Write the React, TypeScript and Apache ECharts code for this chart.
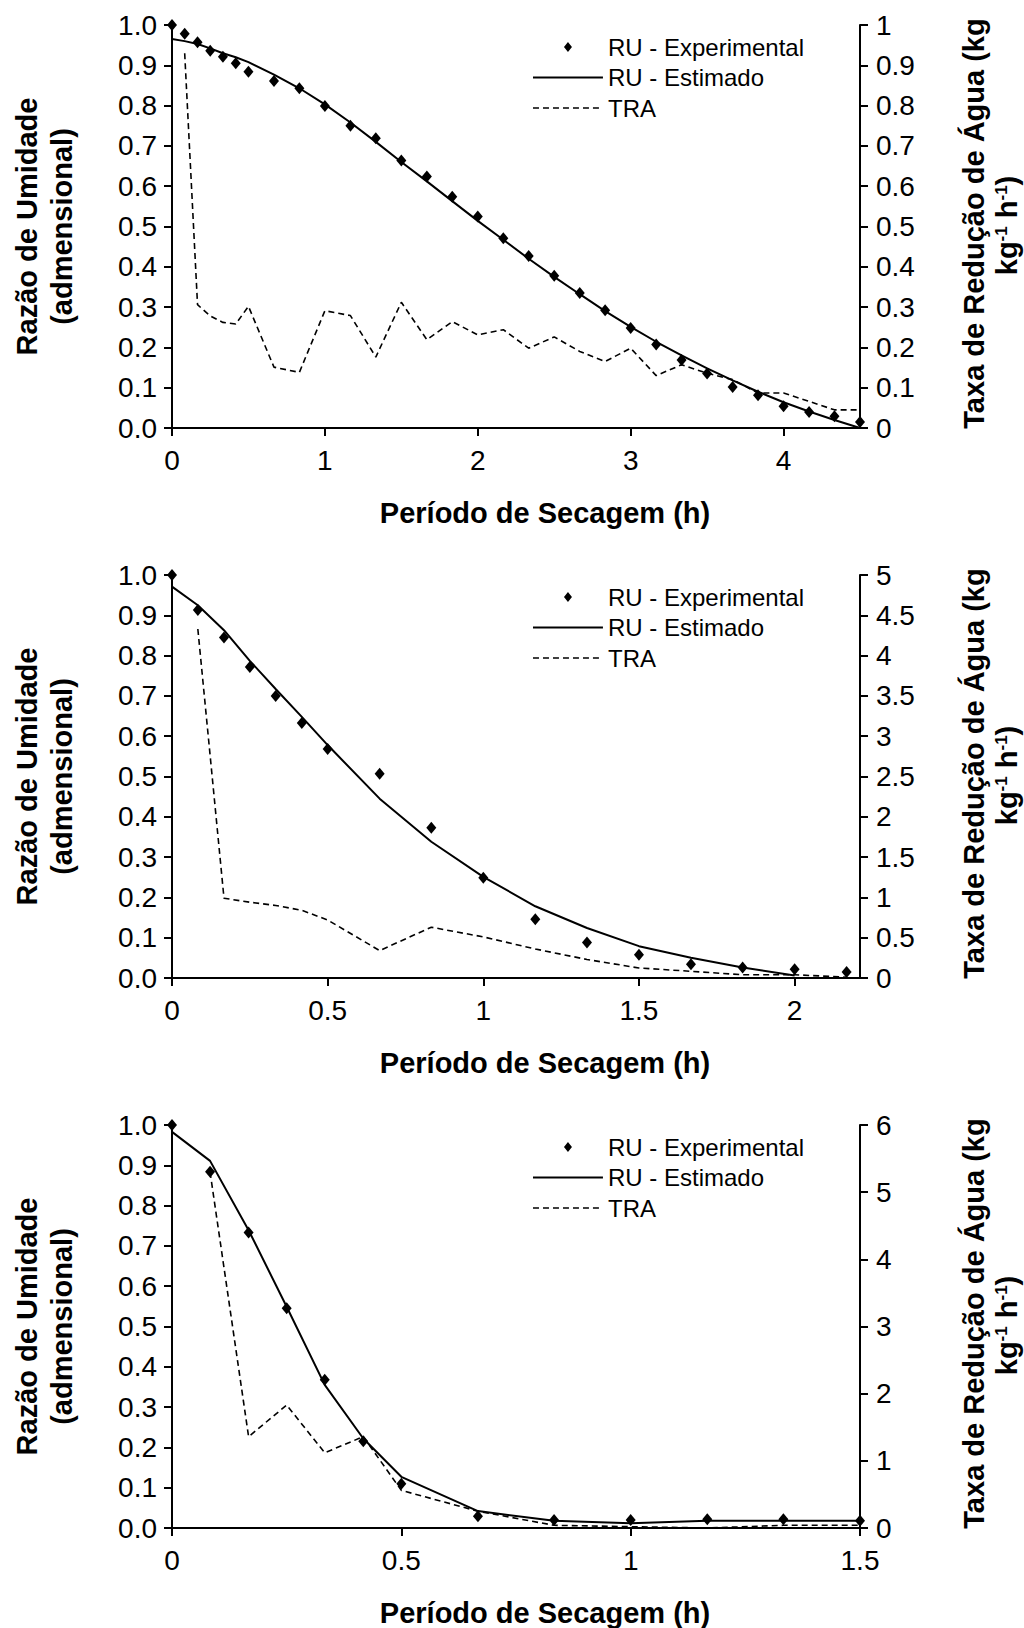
import React, { useEffect, useRef } from 'react';
import * as echarts from 'echarts';

// ---------- data ----------
// Panel 1
const T1 = [0, 0.083, 0.167, 0.25, 0.333, 0.417, 0.5, 0.667, 0.833, 1, 1.167, 1.333, 1.5, 1.667, 1.833, 2, 2.167, 2.333, 2.5, 2.667, 2.833, 3, 3.167, 3.333, 3.5, 3.667, 3.833, 4, 4.167, 4.333, 4.5];
const EXP1 = [1.0, 0.978, 0.957, 0.936, 0.921, 0.905, 0.884, 0.861, 0.843, 0.799, 0.75, 0.719, 0.664, 0.624, 0.574, 0.525, 0.471, 0.427, 0.378, 0.335, 0.292, 0.248, 0.207, 0.169, 0.135, 0.102, 0.081, 0.054, 0.04, 0.029, 0.015];
const EST1 = [0.965, 0.96, 0.953, 0.942, 0.93, 0.92, 0.908, 0.877, 0.843, 0.803, 0.758, 0.71, 0.66, 0.612, 0.563, 0.514, 0.467, 0.42, 0.375, 0.332, 0.29, 0.251, 0.214, 0.18, 0.148, 0.118, 0.09, 0.064, 0.041, 0.02, 0.0];
const TRA1 = [null, 0.93, 0.306, 0.278, 0.262, 0.258, 0.302, 0.151, 0.138, 0.291, 0.279, 0.176, 0.312, 0.219, 0.264, 0.231, 0.244, 0.198, 0.226, 0.19, 0.165, 0.198, 0.13, 0.157, 0.136, 0.12, 0.087, 0.087, 0.066, 0.045, 0.045];

// Panel 2
const T2 = [0, 0.083, 0.167, 0.25, 0.333, 0.417, 0.5, 0.667, 0.833, 1, 1.167, 1.333, 1.5, 1.667, 1.833, 2, 2.167];
const EXP2 = [1.0, 0.913, 0.845, 0.772, 0.7, 0.633, 0.568, 0.507, 0.373, 0.249, 0.146, 0.088, 0.058, 0.034, 0.026, 0.022, 0.015];
const EST2 = [0.971, 0.925, 0.863, 0.787, 0.717, 0.648, 0.578, 0.445, 0.338, 0.251, 0.178, 0.124, 0.079, 0.05, 0.026, 0.006, null];
const TRA2 = [null, 4.33, 0.99, 0.94, 0.9, 0.84, 0.72, 0.34, 0.63, 0.51, 0.36, 0.23, 0.124, 0.083, 0.04, 0.04, 0.01];

// Panel 3
const T3 = [0, 0.083, 0.167, 0.25, 0.333, 0.417, 0.5, 0.667, 0.833, 1, 1.167, 1.333, 1.5];
const EXP3 = [1.0, 0.884, 0.733, 0.545, 0.368, 0.215, 0.11, 0.029, 0.02, 0.02, 0.022, 0.022, 0.018];
const EST3 = [0.983, 0.911, 0.739, 0.549, 0.355, 0.222, 0.127, 0.042, 0.018, 0.012, 0.018, 0.018, 0.018];
const TRA3 = [null, 5.3, 1.36, 1.83, 1.12, 1.36, 0.56, 0.25, 0.04, 0.02, 0.0, 0.04, 0.04];

const SERIES_NAMES = ['RU - Experimental', 'RU - Estimado', 'TRA'];
const X_TITLE = 'Período de Secagem (h)';
const LEFT_TITLE = ['Razão de Umidade', '(admensional)'];
const RIGHT_TITLE = 'Taxa de Redução de Água (kg';

const FONT = '"Liberation Sans", Arial, Helvetica, sans-serif';

function pairs(t: number[], v: (number | null)[]) {
  const out: number[][] = [];
  for (let i = 0; i < t.length; i++) {
    if (v[i] !== null && v[i] !== undefined) out.push([t[i], v[i] as number]);
  }
  return out;
}

// legend icons (70 x 12 box kept by two invisible corner specks)
const BOX = 'M0,0h0.01v0.01h-0.01z M70,12h0.01v0.01h-0.01z ';
const ICON_DIAMOND = 'path://' + BOX + 'M35,1 L39,6 L35,11 L31,6 Z';
const ICON_SOLID = 'path://' + BOX + 'M0,5 H70 V7 H0 Z';
const ICON_DASH = 'path://' + BOX + [0, 10, 20, 30, 40, 50, 60].map((x) => `M${x},5.25 h6 v1.5 h-6 z`).join(' ');

export default function App() {
  const ref = useRef<HTMLDivElement>(null);

  useEffect(() => {
    if (!ref.current) return;
    const chart = echarts.init(ref.current, null, { renderer: 'svg' });

    const panels = [
      { top: 25, xMax: 4.5, xInt: 1, rMax: 1, rInt: 0.1, showMax: false, t: T1, exp: EXP1, est: EST1, tra: TRA1 },
      { top: 575, xMax: 2.21, xInt: 0.5, rMax: 5, rInt: 0.5, showMax: false, t: T2, exp: EXP2, est: EST2, tra: TRA2 },
      { top: 1125, xMax: 1.5, xInt: 0.5, rMax: 6, rInt: 1, showMax: true, t: T3, exp: EXP3, est: EST3, tra: TRA3 },
    ];
    const gLeft = 172;
    const gWidth = 688;
    const gHeight = 403;

    const black = '#000';
    const axisLine = { show: true, onZero: false, lineStyle: { color: black, width: 2 } };
    const axisTick = { show: true, inside: false, length: 8, lineStyle: { color: black, width: 2 } };
    const labelBase = { color: black, fontSize: 28, fontFamily: FONT };

    const grid: any[] = [];
    const xAxis: any[] = [];
    const yAxis: any[] = [];
    const series: any[] = [];
    const legend: any[] = [];
    const graphic: any[] = [];

    panels.forEach((p, i) => {
      grid.push({ left: gLeft, top: p.top, width: gWidth, height: gHeight });
      xAxis.push({
        type: 'value', gridIndex: i, min: 0, max: p.xMax, interval: p.xInt,
        axisLine, axisTick, splitLine: { show: false },
        axisLabel: { ...labelBase, margin: 18, showMaxLabel: p.showMax, showMinLabel: true },
      });
      yAxis.push({
        type: 'value', gridIndex: i, position: 'left', min: 0, max: 1, interval: 0.1,
        axisLine, axisTick, splitLine: { show: false },
        axisLabel: { ...labelBase, margin: 15, formatter: (v: number) => v.toFixed(1) },
      });
      yAxis.push({
        type: 'value', gridIndex: i, position: 'right', min: 0, max: p.rMax, interval: p.rInt,
        axisLine, axisTick, splitLine: { show: false },
        axisLabel: { ...labelBase, margin: 16 },
      });
      series.push({
        name: SERIES_NAMES[0], type: 'scatter', xAxisIndex: i, yAxisIndex: 2 * i,
        symbol: 'diamond', symbolSize: [10, 12], itemStyle: { color: black, opacity: 1 },
        data: pairs(p.t, p.exp), z: 5,
      });
      series.push({
        name: SERIES_NAMES[1], type: 'line', xAxisIndex: i, yAxisIndex: 2 * i,
        symbol: 'none', showSymbol: false, lineStyle: { color: black, width: 2 }, itemStyle: { color: black },
        data: pairs(p.t, p.est), z: 4,
      });
      series.push({
        name: SERIES_NAMES[2], type: 'line', xAxisIndex: i, yAxisIndex: 2 * i + 1,
        symbol: 'none', showSymbol: false, lineStyle: { color: black, width: 1.6, type: [6, 4] }, itemStyle: { color: black },
        data: pairs(p.t, p.tra), z: 3,
      });
      legend.push({
        orient: 'vertical', left: 528, top: p.top + 5, itemWidth: 70, itemHeight: 12, itemGap: 6.5,
        textStyle: { color: black, fontSize: 24, fontFamily: FONT, lineHeight: 24 },
        data: [
          { name: SERIES_NAMES[0], icon: ICON_DIAMOND, itemStyle: { color: black, opacity: 1 } },
          { name: SERIES_NAMES[1], icon: ICON_SOLID, itemStyle: { color: black, opacity: 1 } },
          { name: SERIES_NAMES[2], icon: ICON_DASH, itemStyle: { color: black, opacity: 1 } },
        ],
        selectedMode: false,
      });

      const cy = p.top + gHeight / 2;
      const titleStyle = { fill: black, fontSize: 29, fontWeight: 'bold', fontFamily: FONT, align: 'center', verticalAlign: 'middle' };
      graphic.push({ type: 'text', x: 27, y: cy, rotation: Math.PI / 2, style: { ...titleStyle, text: LEFT_TITLE[0] } });
      graphic.push({ type: 'text', x: 62, y: cy, rotation: Math.PI / 2, style: { ...titleStyle, text: LEFT_TITLE[1] } });
      graphic.push({ type: 'text', x: 974, y: cy - 3, rotation: Math.PI / 2, style: { ...titleStyle, text: RIGHT_TITLE } });
      graphic.push({
        type: 'text', x: 1007, y: cy - 1, rotation: Math.PI / 2,
        style: {
          align: 'center', verticalAlign: 'middle', fill: black,
          text: '{n|kg}{s|-1}{n| h}{s|-1}{n|)}',
          rich: {
            n: { fontSize: 29, fontWeight: 'bold', fontFamily: FONT, fill: black, color: black },
            s: { fontSize: 17, fontWeight: 'bold', fontFamily: FONT, verticalAlign: 'top', fill: black, color: black },
          },
        },
      });
      graphic.push({ type: 'text', x: 545, y: p.top + gHeight + 85, style: { ...titleStyle, text: X_TITLE } });
    });

    chart.setOption({
      animation: false,
      backgroundColor: '#fff',
      textStyle: { fontFamily: FONT },
      grid, xAxis, yAxis, series, legend, graphic,
    });

    return () => chart.dispose();
  }, []);

  return (
    <div
      ref={ref}
      style={{ position: 'absolute', left: 0, top: 0, width: 1024, height: 1628, background: '#fff' }}
    />
  );
}
